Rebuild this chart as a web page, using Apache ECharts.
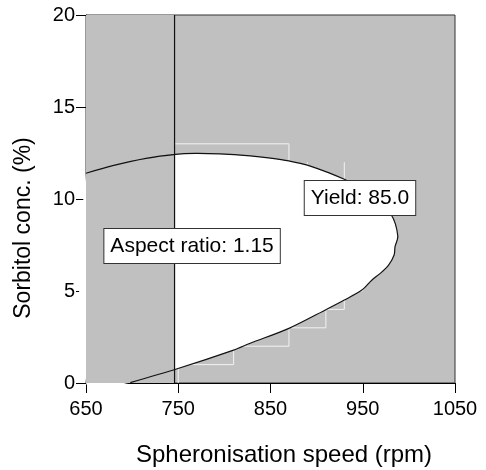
<!DOCTYPE html>
<html>
<head>
<meta charset="utf-8">
<title>Spheronisation design space</title>
<script src="https://cdn.jsdelivr.net/npm/echarts@6/dist/echarts.min.js"></script>
<style>
  html, body { margin: 0; padding: 0; background: #fff; }
  #chart { width: 486px; height: 470px; }
</style>
</head>
<body>
<div id="chart"></div>
<script>
// Axis ticks
const speedTicks = [650, 750, 850, 950, 1050];
const sorbitolTicks = [0, 5, 10, 15, 20];

// Yield = 85.0 contour, traced from the upper-left edge round the tip to the x axis
const contourSpeed = [650, 679, 715, 747, 768, 795, 828, 850, 870, 890, 930, 958, 981, 988, 985, 984, 978, 969, 960, 949, 930, 911, 870, 828, 810, 748, 698];
const contourSorbitol = [11.40, 11.81, 12.21, 12.43, 12.48, 12.45, 12.34, 12.22, 12.07, 11.84, 11.07, 10.30, 9.13, 7.99, 7.41, 6.96, 6.41, 5.96, 5.60, 5.05, 4.51, 4.01, 2.97, 2.16, 1.79, 0.76, 0.02];

// Aspect ratio = 1.15 boundary (constant spheronisation speed)
const aspectSpeed = 746;

// Cell edges of the response grid that show through the shading
const gridEdgeSpeed = [746, 870, 870, null, 890, 890, null, 930, 930, null,
  750, 750, 810, 810, 870, 870, 910, 910, 930, 930, 950, 950, 970, 970];
const gridEdgeSorbitol = [13, 13, 11, null, 12, 11, null, 12, 10.5, null,
  0, 1, 1, 2, 2, 3, 3, 4, 4, 5, 5, 6, 6, 7];

// Annotations
const noteText = ['Aspect ratio: 1.15', 'Yield: 85.0'];
const noteSpeed = [765, 947];
const noteSorbitol = [7.45, 10.05];

const font = 'Liberation Sans, Arial, Helvetica, sans-serif';
const xMin = speedTicks[0], xMax = speedTicks[speedTicks.length - 1];
const yMin = sorbitolTicks[0], yMax = sorbitolTicks[sorbitolTicks.length - 1];

const contourData = contourSpeed.map((x, i) => [x, contourSorbitol[i]]);
const gridEdgeData = gridEdgeSpeed.map((x, i) => x === null ? ['-', '-'] : [x, gridEdgeSorbitol[i]]);
const noteData = noteText.map((t, i) => [noteSpeed[i], noteSorbitol[i], i]);

const chart = echarts.init(document.getElementById('chart'), null, { renderer: 'canvas' });

chart.setOption({
  animation: false,
  grid: {
    left: 86, right: 31, top: 15, bottom: 87,
    show: true, backgroundColor: '#c0c0c0', borderColor: '#333', borderWidth: 1
  },
  xAxis: {
    type: 'value', min: xMin, max: xMax, interval: speedTicks[1] - speedTicks[0],
    axisLine: { show: true, lineStyle: { color: '#000', width: 1 } },
    axisTick: { show: true, inside: false, length: 10, lineStyle: { color: '#000' } },
    axisLabel: { color: '#000', fontSize: 20, fontFamily: font, margin: 16, formatter: v => String(v) },
    splitLine: { show: false }
  },
  yAxis: {
    type: 'value', min: yMin, max: yMax, interval: sorbitolTicks[1] - sorbitolTicks[0],
    axisLine: { show: true, lineStyle: { color: '#000', width: 1 } },
    axisTick: { show: true, inside: false, length: 10, lineStyle: { color: '#000' } },
    axisLabel: { color: '#000', fontSize: 20, fontFamily: font, margin: 11, formatter: v => String(v) },
    splitLine: { show: false }
  },
  graphic: [
    {
      type: 'text', x: 284, y: 455,
      style: { text: 'Spheronisation speed (rpm)', fill: '#000', font: '24px ' + font, align: 'center', verticalAlign: 'middle' }
    },
    {
      type: 'text', x: 24, y: 228, rotation: Math.PI / 2,
      style: { text: 'Sorbitol conc. (%)', fill: '#000', font: '23px ' + font, align: 'center', verticalAlign: 'middle' }
    }
  ],
  series: [
    {
      // faint cell edges on the shaded area
      type: 'line', data: gridEdgeData, z: 1,
      symbol: 'none', connectNulls: false,
      lineStyle: { color: '#f2f2f2', width: 1 },
      silent: true
    },
    {
      // feasible region, contour and aspect ratio boundary
      type: 'custom', z: 2, silent: true,
      data: [[xMin, yMin]],
      renderItem: function (params, api) {
        const pts = contourData.map(p => api.coord(p));
        const closePt = api.coord([xMin, yMin]);
        const tl = api.coord([xMin, yMax]);
        const br = api.coord([aspectSpeed, yMin]);
        const lineTop = api.coord([aspectSpeed, yMax]);
        return {
          type: 'group',
          children: [
            {
              type: 'polygon',
              shape: { points: pts.concat([closePt]), smooth: 0.3 },
              style: { fill: '#ffffff', stroke: null }
            },
            {
              type: 'rect',
              shape: { x: tl[0], y: tl[1], width: br[0] - tl[0], height: br[1] - tl[1] },
              style: { fill: '#c0c0c0' }
            },
            {
              type: 'polyline',
              shape: { points: pts, smooth: 0.3 },
              style: { fill: null, stroke: '#111', lineWidth: 1.2 }
            },
            {
              type: 'line',
              shape: { x1: br[0], y1: br[1], x2: lineTop[0], y2: lineTop[1] },
              style: { stroke: '#111', lineWidth: 1.2 }
            }
          ]
        };
      }
    },
    {
      // boxed annotations
      type: 'custom', z: 5, silent: true,
      data: noteData,
      renderItem: function (params, api) {
        const c = api.coord([api.value(0), api.value(1)]);
        return {
          type: 'text',
          x: c[0], y: c[1],
          style: {
            text: noteText[api.value(2)],
            fill: '#000', font: '21px ' + font,
            align: 'center', verticalAlign: 'middle',
            backgroundColor: '#ffffff', borderColor: '#333', borderWidth: 1,
            padding: [7, 6, 6, 6]
          }
        };
      }
    }
  ]
});
</script>
</body>
</html>
